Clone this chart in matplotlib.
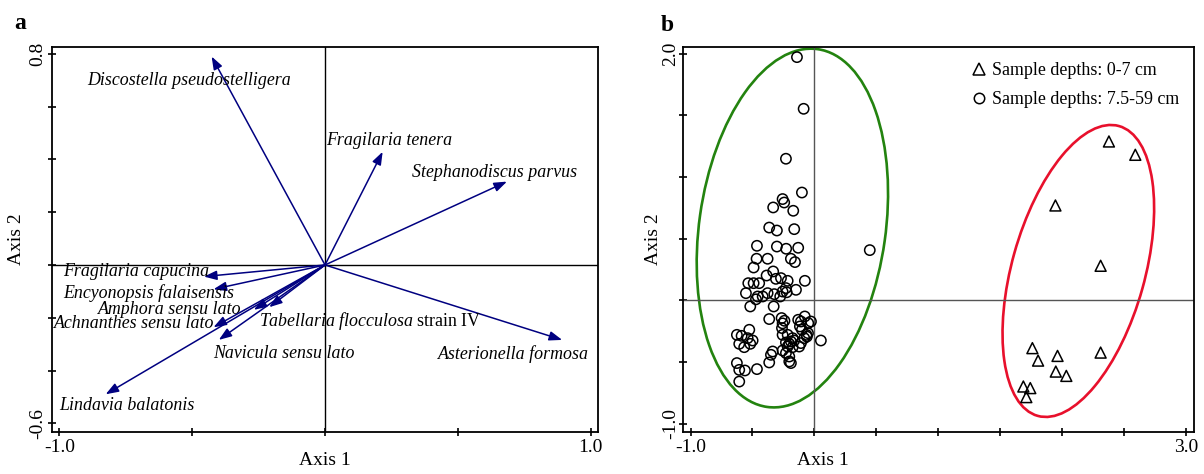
import numpy as np
import matplotlib
matplotlib.use('Agg')
import matplotlib.pyplot as plt
from matplotlib.patches import Ellipse
from matplotlib.lines import Line2D

plt.rcParams['font.family'] = 'Liberation Serif'
plt.rcParams['mathtext.fontset'] = 'custom'
plt.rcParams['mathtext.rm'] = 'Liberation Serif'
plt.rcParams['mathtext.it'] = 'Liberation Serif:italic'

# --- panneau a : vecteurs des especes ---
especes = [
    'Discostella pseudostelligera',
    'Fragilaria tenera',
    'Stephanodiscus parvus',
    'Asterionella formosa',
    'Fragilaria capucina',
    'Encyonopsis falaisensis',
    'Amphora sensu lato',
    r'$\mathit{Tabellaria\ flocculosa}$ strain IV',
    'Achnanthes sensu lato',
    'Navicula sensu lato',
    'Lindavia balatonis',
]
axe1_esp = [-0.427, 0.217, 0.685, 0.893, -0.456, -0.420, -0.268, -0.210, -0.420, -0.400, -0.826]
axe2_esp = [0.790, 0.429, 0.316, -0.284, -0.044, -0.092, -0.170, -0.160, -0.236, -0.284, -0.490]

# ou placer les noms (coin gauche, milieu vertical)
etiquette_x = [-0.894, 0.004, 0.326, 0.427, -0.985, -0.985, -0.855, -0.250, -1.021, -0.420, -1.000]
etiquette_y = [0.701, 0.470, 0.352, -0.337, -0.025, -0.108, -0.168, -0.212, -0.221, -0.337, -0.533]
etiquette_italique = [True] * 7 + [False] + [True] * 3

# --- panneau b : echantillons ---
tri_x = [2.378, 2.591, 1.946, 2.311, 1.760, 1.806, 1.963, 1.949, 2.034, 2.311, 1.687, 1.743, 1.711]
tri_y = [1.288, 1.180, 0.769, 0.280, -0.388, -0.489, -0.451, -0.578, -0.613, -0.424, -0.699, -0.712, -0.785]

cercle_x = [
    -0.141, -0.087, -0.230, -0.101, -0.257, -0.244, -0.333, -0.171, -0.365, -0.303,
    -0.163, -0.464, -0.303, -0.228, -0.131, 0.447, -0.467, -0.378, -0.190, -0.157,
    -0.491, -0.333, -0.386, -0.311, -0.270, -0.216, -0.077, -0.534, -0.491, -0.446,
    -0.230, -0.224, -0.149, -0.553, -0.458, -0.472, -0.418, -0.378, -0.324, -0.276,
    -0.257, -0.518, -0.329, -0.365, -0.265, -0.242, -0.257, -0.131, -0.078, -0.028,
    -0.050, -0.109, -0.526, -0.626, -0.588, -0.539, -0.499, -0.518, -0.607, -0.567,
    -0.262, -0.117, -0.101, -0.064, -0.052, -0.257, -0.216, -0.176, -0.230, -0.203,
    -0.190, -0.163, -0.216, -0.176, -0.123, -0.109, -0.082, -0.061, 0.052, -0.337,
    -0.351, -0.365, -0.257, -0.230, -0.203, -0.203, -0.190, -0.626, -0.607, -0.561,
    -0.607, -0.464,
]
cercle_y = [
    1.972, 1.553, 1.148, 0.874, 0.821, 0.793, 0.753, 0.726, 0.590, 0.566,
    0.577, 0.442, 0.436, 0.418, 0.426, 0.407, 0.337, 0.337, 0.337, 0.310,
    0.266, 0.234, 0.201, 0.174, 0.180, 0.158, 0.158, 0.139, 0.139, 0.139,
    0.099, 0.065, 0.085, 0.058, 0.031, 0.008, 0.031, 0.058, 0.050, 0.031,
    0.071, -0.050, -0.050, -0.152, -0.144, -0.166, -0.187, -0.158, -0.131, -0.172,
    -0.185, -0.172, -0.239, -0.280, -0.288, -0.307, -0.326, -0.353, -0.353, -0.380,
    -0.225, -0.212, -0.239, -0.280, -0.266, -0.280, -0.280, -0.307, -0.342, -0.353,
    -0.334, -0.326, -0.375, -0.380, -0.375, -0.347, -0.307, -0.294, -0.326, -0.415,
    -0.442, -0.504, -0.407, -0.428, -0.456, -0.496, -0.509, -0.509, -0.564, -0.569,
    -0.659, -0.558,
]

# ellipses : centre, grand axe, petit axe, angle
ell_vert = (-0.178, 0.586, 2.93, 1.505, 82.0)
ell_rouge = (2.131, 0.238, 2.44, 1.073, 74.4)

bleu = '#000080'
fig = plt.figure(figsize=(12.04, 4.74), dpi=100)
ax_a = fig.add_axes([0.0432, 0.0886, 0.4535, 0.8122])
ax_b = fig.add_axes([0.5676, 0.0886, 0.4241, 0.8122])

# panneau a
ax_a.axhline(0, color='black', lw=1.0)
ax_a.axvline(0, color='black', lw=1.0)
for i in range(len(especes)):
    ax_a.annotate('', xy=(axe1_esp[i], axe2_esp[i]), xytext=(0, 0),
                  arrowprops=dict(arrowstyle='-|>,head_length=0.55,head_width=0.2',
                                  color=bleu, lw=1.1, shrinkA=0, shrinkB=0,
                                  mutation_scale=14))
    ax_a.text(etiquette_x[i], etiquette_y[i], especes[i], ha='left', va='center',
              fontsize=12.9, style='italic' if etiquette_italique[i] else 'normal')
ax_a.set_xlim(-1.028, 1.028)
ax_a.set_ylim(-0.633, 0.826)
ax_a.set_xticks(np.arange(-1.0, 1.01, 0.5))
ax_a.set_xticklabels(['-1.0', '', '', '', '1.0'])
ax_a.set_yticks(np.arange(-0.6, 0.81, 0.2))
ax_a.set_yticklabels(['-0.6', '', '', '', '', '', '', '0.8'], rotation=90, va='center')
ax_a.set_xlabel('Axis 1', fontsize=14)
ax_a.set_ylabel('Axis 2', fontsize=14, labelpad=3)
ax_a.xaxis.set_label_coords(0.5, -0.052)

# panneau b
ax_b.axhline(0, color='#555555', lw=1.0)
ax_b.axvline(0, color='#555555', lw=1.0)
for (cx, cy, w, h, ang), c in [(ell_vert, '#23830f'), (ell_rouge, '#e8102c')]:
    ax_b.add_patch(Ellipse((cx, cy), w, h, angle=ang, fill=False, ec=c, lw=1.9))
ax_b.scatter(cercle_x, cercle_y, marker='o', s=55, facecolors='none',
             edgecolors='black', linewidths=1.1, zorder=3)
ax_b.scatter(tri_x, tri_y, marker='^', s=62, facecolors='none',
             edgecolors='black', linewidths=1.1, zorder=3)
ax_b.set_xlim(-1.058, 3.065)
ax_b.set_ylim(-1.068, 2.054)
ax_b.set_xticks(np.arange(-1.0, 3.01, 0.5))
ax_b.set_xticklabels(['-1.0'] + [''] * 7 + ['3.0'])
ax_b.set_yticks(np.arange(-1.0, 2.01, 0.5))
ax_b.set_yticklabels(['-1.0'] + [''] * 5 + ['2.0'], rotation=90, va='center')
ax_b.set_xlabel('Axis 1', fontsize=14)
ax_b.set_ylabel('Axis 2', fontsize=14, labelpad=0)
ax_b.xaxis.set_label_coords(0.273, -0.052)

poignees = [
    Line2D([], [], ls='none', marker='^', ms=8, mfc='none', mec='black', mew=1.1),
    Line2D([], [], ls='none', marker='o', ms=7.5, mfc='none', mec='black', mew=1.1),
]
ax_b.legend(poignees, ['Sample depths: 0-7 cm', 'Sample depths: 7.5-59 cm'],
            loc='upper right', frameon=False, fontsize=12.9, handlelength=0.8,
            handletextpad=0.3, labelspacing=0.68, borderaxespad=0.45)

for ax in (ax_a, ax_b):
    ax.tick_params(direction='inout', length=6, width=1.2, labelsize=14, pad=2)
    for s in ax.spines.values():
        s.set_linewidth(1.3)
ax_a.tick_params(axis='y', pad=1)
ax_b.tick_params(axis='y', pad=0)

fig.text(0.012, 0.95, 'a', fontsize=17, fontweight='bold', va='center')
fig.text(0.549, 0.946, 'b', fontsize=17, fontweight='bold', va='center')

fig.savefig('out.png', dpi=100)
